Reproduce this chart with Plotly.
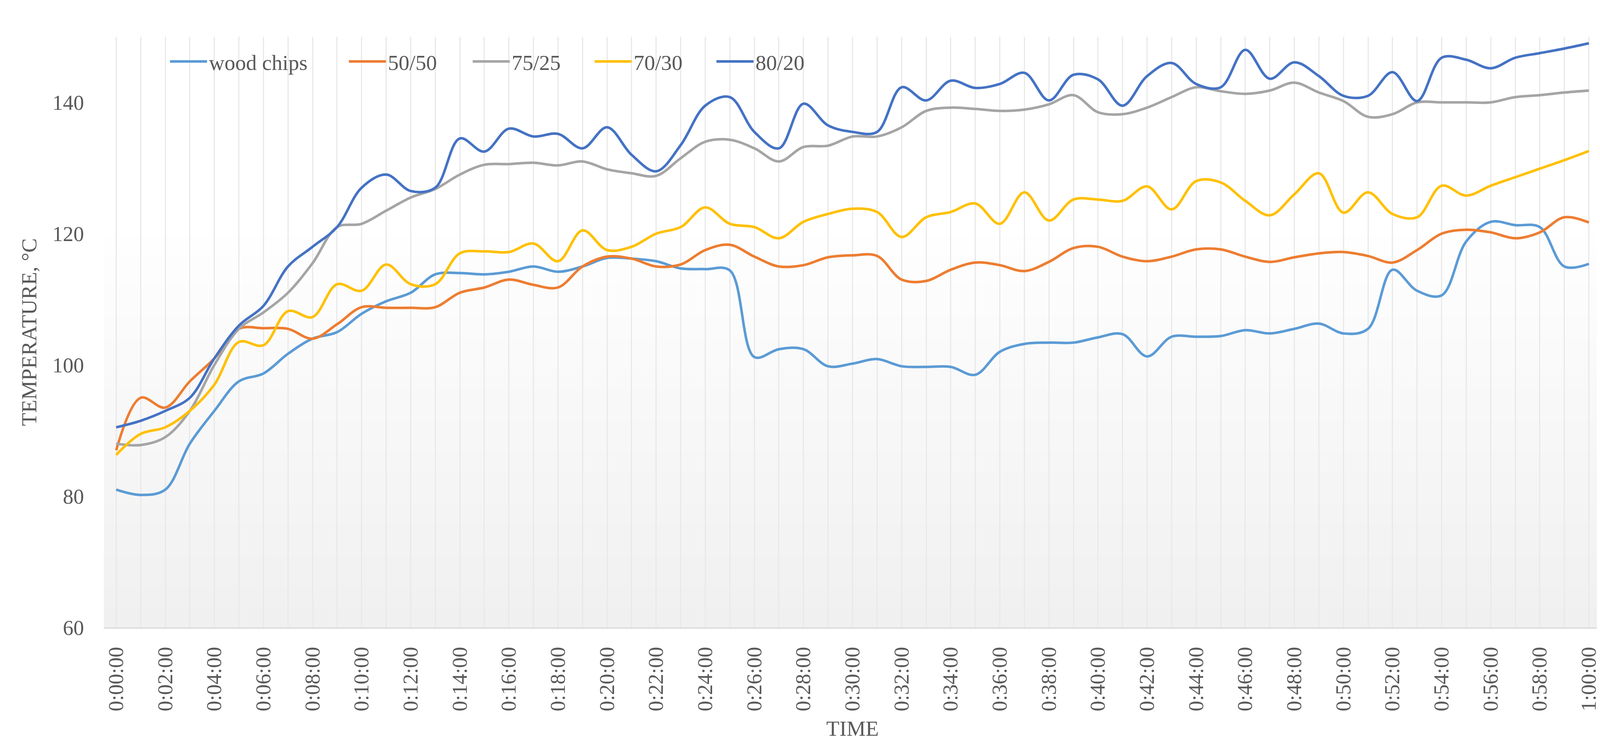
import plotly.graph_objects as go

minutes = list(range(61))
time_labels = [f"{m // 60}:{m % 60:02d}:00" for m in minutes]

series_names = ["wood chips", "50/50", "75/25", "70/30", "80/20"]
series_colors = ["#5B9BD5", "#ED7D31", "#A5A5A5", "#FFC000", "#4472C4"]

wood_chips = [81, 80.2, 81, 88, 93, 97.5, 98.7, 101.7, 104, 105, 107.8, 109.7, 111, 113.8, 114, 113.8,
              114.2, 115, 114.2, 115, 116.3, 116.2, 115.8, 114.7, 114.6, 114.4, 101.2, 102.4, 102.4, 99.8,
              100.2, 100.9, 99.8, 99.7, 99.7, 98.5, 102, 103.2, 103.4, 103.4, 104.2, 104.7, 101.3, 104.3,
              104.3, 104.4, 105.3, 104.8, 105.5, 106.3, 104.8, 105.5, 114.5, 111.3, 110.6, 118.8, 121.8,
              121.3, 121, 115, 115.4]
mix_50_50 = [87, 95, 93.5, 97.5, 101, 105.5, 105.6, 105.5, 104, 106.2, 108.8, 108.7, 108.7, 108.8, 111,
             111.8, 113, 112.2, 111.8, 115, 116.5, 116.2, 115, 115.3, 117.5, 118.3, 116.5, 115, 115.2,
             116.4, 116.7, 116.6, 113, 112.8, 114.5, 115.6, 115.2, 114.3, 115.7, 117.8, 118, 116.5, 115.8,
             116.5, 117.6, 117.6, 116.5, 115.7, 116.4, 117, 117.2, 116.6, 115.6, 117.5, 120, 120.6, 120.2,
             119.3, 120.2, 122.5, 121.7]
mix_75_25 = [88, 87.8, 89, 93, 100, 105.5, 108, 111, 115.5, 121, 121.5, 123.5, 125.5, 126.8, 129, 130.5,
             130.6, 130.8, 130.4, 131, 129.8, 129.2, 128.8, 131.5, 134, 134.3, 133, 131, 133.2, 133.4,
             134.8, 134.8, 136.2, 138.7, 139.2, 139, 138.7, 138.9, 139.7, 141.1, 138.5, 138.2, 139.2,
             140.8, 142.3, 141.7, 141.3, 141.8, 143, 141.5, 140.2, 137.8, 138.2, 140, 140, 140, 140,
             140.8, 141.1, 141.5, 141.8]
mix_70_30 = [86.3, 89.5, 90.5, 93, 97, 103.5, 103, 108.2, 107.3, 112.3, 111.3, 115.3, 112.3, 112.3, 117,
             117.3, 117.2, 118.5, 115.8, 120.5, 117.5, 118, 120, 121, 124, 121.5, 121, 119.3, 121.8, 123,
             123.8, 123.3, 119.5, 122.5, 123.3, 124.6, 121.5, 126.3, 122, 125.2, 125.2, 125, 127.2, 123.7,
             128, 127.8, 125, 122.8, 126, 129.2, 123.2, 126.3, 123, 122.5, 127.3, 125.8, 127.3, 128.6,
             129.9, 131.2, 132.6]
mix_80_20 = [90.5, 91.5, 93, 95, 101, 106, 109, 115, 118, 121, 127, 129, 126.5, 127, 134.5, 132.5, 136,
             134.8, 135.2, 133, 136.2, 132, 129.5, 133.5, 139.5, 140.8, 135.5, 133, 139.8, 136.5, 135.5,
             135.5, 142.3, 140.3, 143.3, 142.2, 142.8, 144.5, 140.3, 144.2, 143.5, 139.5, 144, 146, 142.8,
             142.3, 148, 143.6, 146.1, 144, 141, 141, 144.6, 140.2, 146.8, 146.5, 145.2, 146.8, 147.5,
             148.2, 149]

series_values = [wood_chips, mix_50_50, mix_75_25, mix_70_30, mix_80_20]

y_ticks = [60, 80, 100, 120, 140]

FONT = "Liberation Serif"
TXT = "#595959"

legend_ids = ["legend", "legend2", "legend3", "legend4", "legend5"]
legend_x = [0.0428, 0.1623, 0.2450, 0.3264, 0.4078]

fig = go.Figure()
for name, color, vals, lid in zip(series_names, series_colors, series_values, legend_ids):
    fig.add_trace(go.Scatter(
        x=minutes, y=vals, name=name, mode="lines", legend=lid,
        line=dict(color=color, width=6.5, shape="spline", smoothing=1.0),
    ))

# plot-area gradient background (white at top -> light grey at bottom)
shapes = []
n_bands = 40
g_top = 0.70
for i in range(n_bands):
    y0 = g_top * i / n_bands
    y1 = g_top * (i + 1) / n_bands
    t = i / (n_bands - 1)
    c = int(round(240 + (255 - 240) * t))
    shapes.append(dict(type="rect", xref="x domain", yref="y domain", x0=0, x1=1, y0=y0, y1=y1 + 0.002,
                       fillcolor=f"rgb({c},{c},{c})", line=dict(width=0), layer="below"))

tick_positions = minutes[::2]
tick_text = time_labels[::2]

legend_layouts = {}
for lid, lx in zip(legend_ids, legend_x):
    legend_layouts[lid] = dict(orientation="h", x=lx, y=0.958, xanchor="left", yanchor="middle",
                               bgcolor="rgba(0,0,0,0)", font=dict(family=FONT, size=55, color=TXT),
                               itemwidth=95)

fig.update_layout(
    width=4182, height=1899,
    margin=dict(l=258, r=91, t=86, b=301),
    paper_bgcolor="white", plot_bgcolor="white",
    font=dict(family=FONT, size=54, color=TXT),
    shapes=shapes,
    showlegend=True,
    xaxis=dict(
        range=[-0.5, 60.5],
        tickmode="array", tickvals=tick_positions, ticktext=tick_text,
        tickangle=-90, tickfont=dict(family=FONT, size=54, color=TXT),
        showgrid=True, gridcolor="#e9e9e9", gridwidth=3,
        minor=dict(dtick=1, tick0=0, showgrid=True, gridcolor="#e9e9e9", gridwidth=3, ticks=""),
        showline=True, linecolor="#d9d9d9", linewidth=3,
        ticks="", ticklabelstandoff=25,
        zeroline=False,
        title=dict(text="TIME", font=dict(family=FONT, size=55, color=TXT), standoff=25),
    ),
    yaxis=dict(
        range=[60, 150],
        tickmode="array", tickvals=y_ticks,
        tickfont=dict(family=FONT, size=54, color=TXT),
        showgrid=False, zeroline=False, showline=False,
        ticks="", ticklabelstandoff=50,
        title=dict(text="TEMPERATURE, °C", font=dict(family=FONT, size=55, color=TXT), standoff=22),
    ),
    **legend_layouts,
)

fig.write_html("out.html")
